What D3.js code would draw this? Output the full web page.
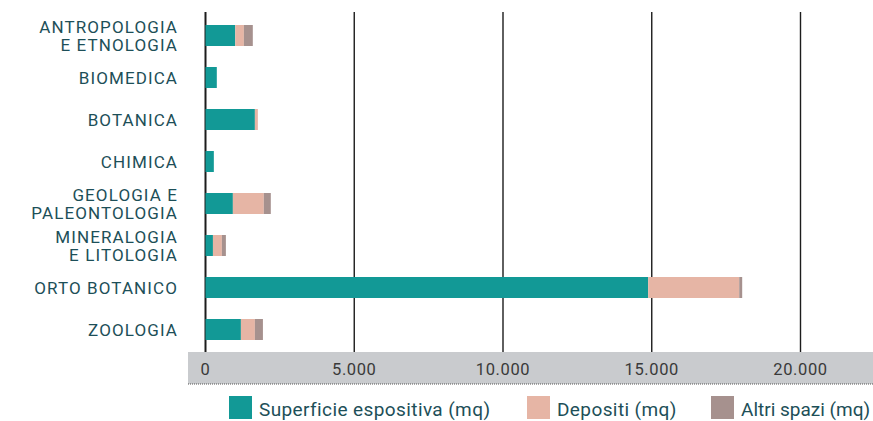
<!DOCTYPE html>
<html><head><meta charset="utf-8">
<script src="https://cdn.jsdelivr.net/npm/d3@7"></script>
<style>
html,body{margin:0;padding:0;background:#fff;}
svg{display:block;}
</style></head>
<body>
<svg id="chart" width="873" height="421"></svg>
<script>
const categories = ["ANTROPOLOGIA\nE ETNOLOGIA","BIOMEDICA","BOTANICA","CHIMICA","GEOLOGIA E\nPALEONTOLOGIA","MINERALOGIA\nE LITOLOGIA","ORTO BOTANICO","ZOOLOGIA"];
const superficie = [1000, 380, 1660, 280, 920, 250, 14880, 1190];
const depositi   = [290, 0, 100, 0, 1040, 300, 3060, 470];
const altri      = [300, 0, 0, 0, 235, 135, 100, 270];
const seriesNames = ["Superficie espositiva (mq)", "Depositi (mq)", "Altri spazi (mq)"];
const colors = ["#129996", "#e6b5a5", "#a6918e"];
const tickValues = [0, 5000, 10000, 15000, 20000];

const svg = d3.select("#chart");
const x = d3.scaleLinear().domain([0, 20000]).range([205.5, 800.5]);
const y = d3.scaleBand().domain(categories).range([14.5, 350.5]).paddingInner(0.5).paddingOuter(0.25);
const it = d3.formatLocale({decimal: ",", thousands: ".", grouping: [3], currency: ["€", ""]});
const fmt = it.format(",");

// axis band
svg.append("rect").attr("x", 188).attr("y", 352).attr("width", 873 - 188).attr("height", 32).attr("fill", "#c9cbce");
svg.append("line").attr("x1", 188).attr("x2", 873).attr("y1", 384).attr("y2", 384)
  .attr("stroke", "#555").attr("stroke-width", 1).attr("stroke-dasharray", "1,1");

// gridlines
svg.append("g").selectAll("line").data(tickValues).join("line")
  .attr("x1", d => x(d)).attr("x2", d => x(d)).attr("y1", 12).attr("y2", 352)
  .attr("stroke", "#1c1c1c").attr("stroke-width", d => d === 0 ? 2 : 1.4);

// tick labels
svg.append("g").selectAll("text").data(tickValues).join("text")
  .attr("x", d => x(d)).attr("y", 375).attr("text-anchor", "middle")
  .attr("font-family", "Roboto, sans-serif").attr("font-size", 16.5).attr("font-weight", 400)
  .attr("letter-spacing", 0.6)
  .attr("fill", "#3a3a3a").text(d => fmt(d));

// stacked bars
const data = categories.map((c, i) => ({cat: c, v: [superficie[i], depositi[i], altri[i]]}));
const gBars = svg.append("g");
data.forEach(d => {
  let acc = 0;
  d.v.forEach((val, k) => {
    if (val > 0) {
      gBars.append("rect").attr("x", x(acc)).attr("y", y(d.cat))
        .attr("width", x(acc + val) - x(acc)).attr("height", y.bandwidth()).attr("fill", colors[k]);
    }
    acc += val;
  });
});

// category labels
const gLab = svg.append("g").attr("font-family", "Roboto, sans-serif").attr("font-size", 17)
  .attr("font-weight", 400).attr("letter-spacing", 1.1).attr("fill", "#1d4f58");
categories.forEach(c => {
  const lines = c.split("\n");
  const cy = y(c) + y.bandwidth() / 2;
  lines.forEach((ln, i) => {
    const base = cy + 6.5 + (i - (lines.length - 1) / 2) * 18.5;
    gLab.append("text").attr("text-anchor", "end").attr("x", 178).attr("y", base).text(ln);
  });
});

// legend
const legX = [229, 527, 711];
const gLeg = svg.append("g");
seriesNames.forEach((n, i) => {
  gLeg.append("rect").attr("x", legX[i]).attr("y", 396).attr("width", 23).attr("height", 23).attr("fill", colors[i]);
  gLeg.append("text").attr("x", legX[i] + 30).attr("y", 416).attr("font-family", "Roboto, sans-serif")
    .attr("font-size", 19).attr("font-weight", 400).attr("letter-spacing", i === 2 ? 0 : 0.4)
    .attr("fill", "#1d4f58").text(n);
});
</script>
</body></html>
